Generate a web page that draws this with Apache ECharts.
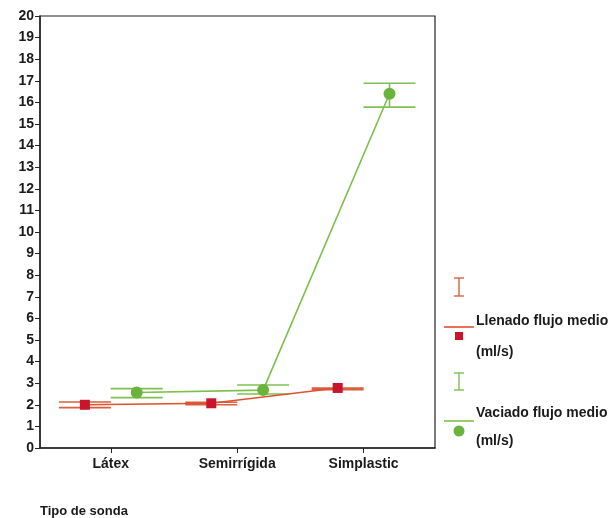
<!DOCTYPE html>
<html>
<head>
<meta charset="utf-8">
<script src="https://cdn.jsdelivr.net/npm/echarts@6/dist/echarts.min.js"></script>
<style>html,body{margin:0;padding:0;background:#fff}#c{width:614px;height:518px}</style>
</head>
<body>
<div id="c"></div>
<script>
const categories = ['Látex', 'Semirrígida', 'Simplastic'];
const yTicks = [0,1,2,3,4,5,6,7,8,9,10,11,12,13,14,15,16,17,18,19,20];
const llenadoMean = [2.0, 2.07, 2.78];
const llenadoLow = [1.87, 2.0, 2.7];
const llenadoHigh = [2.13, 2.12, 2.77];
const vaciadoMean = [2.57, 2.68, 16.4];
const vaciadoLow = [2.33, 2.5, 15.78];
const vaciadoHigh = [2.75, 2.92, 16.89];
const seriesNames = ['Llenado flujo medio', 'Vaciado flujo medio'];
const unitText = '(ml/s)';
const xTitle = 'Tipo de sonda';

const RED_LINE = '#e0502f', RED_MARK = '#c8142c', RED_CAP = '#d8603f';
const GREEN_LINE = '#7dbf4c', GREEN_MARK = '#6ab43e', GREEN_CAP = '#7fc052';
const OFF = 0.205;
const FONT = 'Liberation Sans, Arial, sans-serif';

function errData(low, high, off) {
  return categories.map((c, i) => [i + off, low[i], high[i]]);
}
function lineData(mean, off) {
  return categories.map((c, i) => [i + off, mean[i]]);
}
function errRender(color) {
  return function (params, api) {
    const x = api.value(0);
    const lo = api.coord([x, api.value(1)]);
    const hi = api.coord([x, api.value(2)]);
    const hw = 26;
    const st = { stroke: color, lineWidth: 1.6 };
    return {
      type: 'group',
      children: [
        { type: 'line', shape: { x1: lo[0] - hw, y1: lo[1], x2: lo[0] + hw, y2: lo[1] }, style: st },
        { type: 'line', shape: { x1: hi[0] - hw, y1: hi[1], x2: hi[0] + hw, y2: hi[1] }, style: st },
        { type: 'line', shape: { x1: lo[0], y1: lo[1], x2: hi[0], y2: hi[1] }, style: st }
      ]
    };
  };
}

const chart = echarts.init(document.getElementById('c'), null, { renderer: 'canvas' });
const txt = { fontFamily: FONT, fontSize: 14, fontWeight: 'bold', fill: '#1a1a1a' };
chart.setOption({
  animation: false,
  backgroundColor: '#fff',
  grid: { left: 40, top: 16, right: 179, bottom: 70, show: true, borderColor: '#222', borderWidth: 1.2, backgroundColor: 'transparent' },
  xAxis: {
    type: 'value', min: -0.56, max: 2.565,
    axisLine: { show: true, onZero: false, lineStyle: { color: '#222', width: 1.5 } },
    axisTick: { show: true, length: 5, customValues: [0, 1, 2], lineStyle: { color: '#222' } },
    axisLabel: { customValues: [0, 1, 2], formatter: v => categories[Math.round(v)] || '', fontFamily: FONT, fontSize: 14, fontWeight: 'bold', color: '#1a1a1a', margin: 9 },
    splitLine: { show: false }
  },
  yAxis: {
    type: 'value', min: yTicks[0], max: yTicks[yTicks.length - 1], interval: 1,
    axisLine: { show: true, onZero: false, lineStyle: { color: '#222', width: 1.5 } },
    axisTick: { show: true, length: 5, lineStyle: { color: '#222' } },
    axisLabel: { fontFamily: FONT, fontSize: 14, fontWeight: 'bold', color: '#1a1a1a', margin: 6 },
    splitLine: { show: false }
  },
  series: [
    { type: 'custom', renderItem: errRender(RED_CAP), data: errData(llenadoLow, llenadoHigh, -OFF), z: 2 },
    { type: 'custom', renderItem: errRender(GREEN_CAP), data: errData(vaciadoLow, vaciadoHigh, OFF), z: 2 },
    { type: 'line', name: seriesNames[0], data: lineData(llenadoMean, -OFF), lineStyle: { color: RED_LINE, width: 1.6 },
      symbol: 'rect', symbolSize: 10, itemStyle: { color: RED_MARK }, z: 3 },
    { type: 'line', name: seriesNames[1], data: lineData(vaciadoMean, OFF), lineStyle: { color: GREEN_LINE, width: 1.6 },
      symbol: 'circle', symbolSize: 12, itemStyle: { color: GREEN_MARK }, z: 3 }
  ],
  graphic: [
    { type: 'text', left: 40, top: 505, style: { text: xTitle, fontFamily: FONT, fontSize: 13, fontWeight: 'bold', fill: '#1a1a1a' } },
    // red legend
    { type: 'line', shape: { x1: 454, y1: 278, x2: 464, y2: 278 }, style: { stroke: RED_CAP, lineWidth: 1.4 } },
    { type: 'line', shape: { x1: 454, y1: 296, x2: 464, y2: 296 }, style: { stroke: RED_CAP, lineWidth: 1.4 } },
    { type: 'line', shape: { x1: 459, y1: 278, x2: 459, y2: 296 }, style: { stroke: RED_CAP, lineWidth: 1.4 } },
    { type: 'line', shape: { x1: 444, y1: 327, x2: 474, y2: 327 }, style: { stroke: RED_LINE, lineWidth: 1.6 } },
    { type: 'rect', shape: { x: 455, y: 332, width: 8, height: 8 }, style: { fill: RED_MARK } },
    { type: 'text', x: 476, y: 321, style: Object.assign({ text: seriesNames[0], verticalAlign: 'middle' }, txt) },
    { type: 'text', x: 476, y: 352, style: Object.assign({ text: unitText, verticalAlign: 'middle' }, txt) },
    // green legend
    { type: 'line', shape: { x1: 454, y1: 373, x2: 464, y2: 373 }, style: { stroke: GREEN_CAP, lineWidth: 1.4 } },
    { type: 'line', shape: { x1: 454, y1: 390, x2: 464, y2: 390 }, style: { stroke: GREEN_CAP, lineWidth: 1.4 } },
    { type: 'line', shape: { x1: 459, y1: 373, x2: 459, y2: 390 }, style: { stroke: GREEN_CAP, lineWidth: 1.4 } },
    { type: 'line', shape: { x1: 444, y1: 421, x2: 474, y2: 421 }, style: { stroke: GREEN_LINE, lineWidth: 1.6 } },
    { type: 'circle', shape: { cx: 459, cy: 431, r: 5.5 }, style: { fill: GREEN_MARK } },
    { type: 'text', x: 476, y: 413, style: Object.assign({ text: seriesNames[1], verticalAlign: 'middle' }, txt) },
    { type: 'text', x: 476, y: 441, style: Object.assign({ text: unitText, verticalAlign: 'middle' }, txt) }
  ]
});
</script>
</body>
</html>
